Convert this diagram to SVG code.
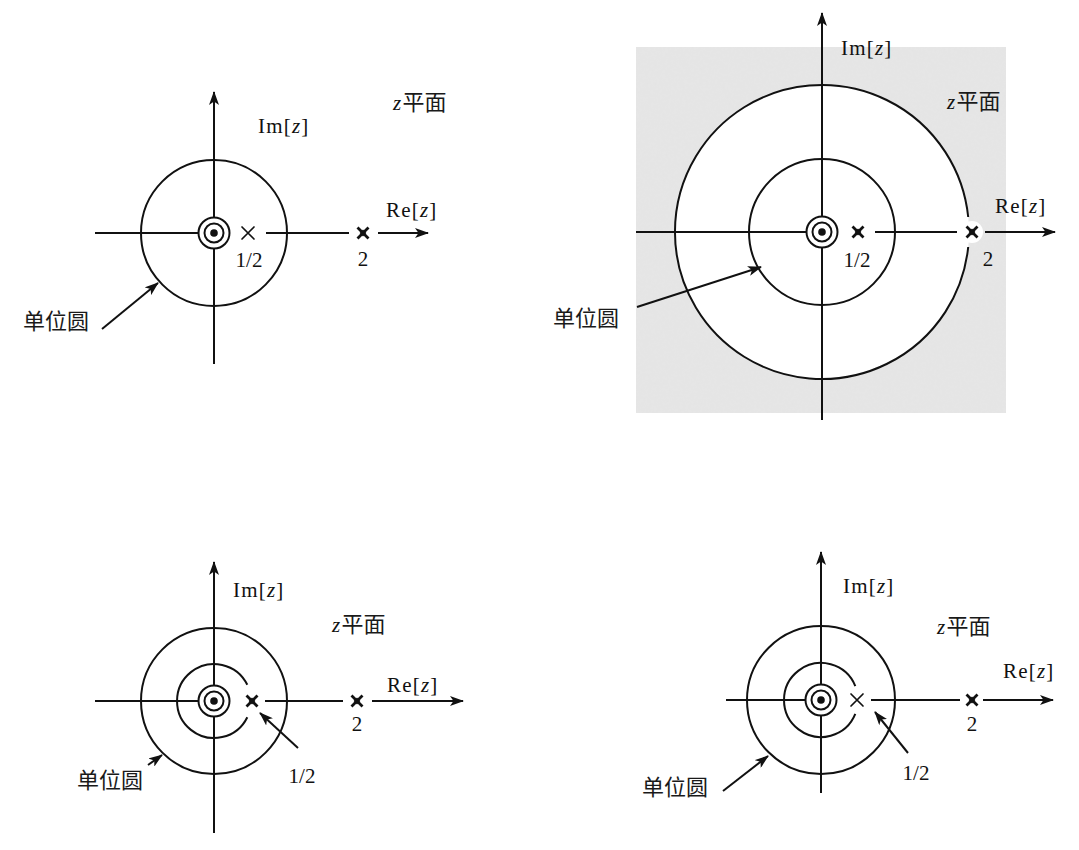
<svg xmlns="http://www.w3.org/2000/svg" width="1079" height="850" viewBox="0 0 1079 850">
<style>
.ax{stroke:#111;stroke-width:2;fill:none}
.c{stroke:#111;stroke-width:2;fill:none}
.th{stroke:#111;stroke-width:1.7;fill:none;stroke-linecap:round}
.bd{stroke:#111;stroke-width:2.8;fill:none}
.dot{fill:#111}
.lt{font-family:"Liberation Serif","Times New Roman",serif;font-size:21px;fill:#111;letter-spacing:1.2px}
.it{font-style:italic}
.cj{font-family:"Noto Sans CJK SC","Noto Sans",sans-serif;font-size:22px;fill:#1a1a1a}
.num{font-family:"Liberation Serif","Times New Roman",serif;font-size:21px;fill:#111;text-anchor:middle}
</style>
<defs>
<marker id="ah" viewBox="0 0 14 10" refX="13" refY="5" markerWidth="14" markerHeight="10" markerUnits="userSpaceOnUse" orient="auto">
<path d="M0,0 L14,5 L0,10 L3.5,5 z" fill="#111"/>
</marker>
<filter id="grain" x="0" y="0" width="100%" height="100%">
<feTurbulence type="fractalNoise" baseFrequency="0.35" numOctaves="2" seed="3" result="n"/>
<feColorMatrix type="matrix" values="0 0 0 0 0.78  0 0 0 0 0.78  0 0 0 0 0.78  0 0 0 -1.6 1.25" in="n" result="g"/>
<feComposite in="g" in2="SourceGraphic" operator="in"/>
</filter>
<g id="zero">
<circle r="15.5" class="c"/>
<circle r="9.5" class="c"/>
<circle r="3.8" class="dot"/>
</g>
<g id="pole">
<path d="M-5.5,-5.5 L5.5,5.5 M-5.5,5.5 L5.5,-5.5" class="bd"/>
<rect x="-2.4" y="-2.4" width="4.8" height="4.8" class="dot" transform="rotate(45)"/>
</g>
<g id="xthin">
<path d="M-6,-6 L6,6 M-6,6 L6,-6" class="th"/>
</g>
</defs>
<rect width="1079" height="850" fill="#fff"/>

<!-- Panel 1 -->
<g id="panel1">
<circle cx="214" cy="233" r="73" class="c"/>
<use href="#zero" x="214" y="233"/>
<use href="#xthin" x="248" y="233"/>
<use href="#pole" x="363" y="233"/>
<text x="249" y="267" class="num">1/2</text>
<text x="363" y="266" class="num">2</text>
<text x="386" y="217" class="lt">Re[<tspan class="it">z</tspan>]</text>
<text x="258" y="133" class="lt">Im[<tspan class="it">z</tspan>]</text>
<text x="393" y="110"><tspan class="lt it">z</tspan><tspan class="cj">平面</tspan></text>
<text x="23" y="329" class="cj">单位圆</text>
</g>

<!-- Panel 2 -->
<g id="panel2">
<rect x="636" y="47" width="370" height="366" fill="#e6e6e6"/>
<rect x="636" y="47" width="370" height="366" fill="#000" filter="url(#grain)"/>
<circle cx="822" cy="232" r="147" fill="#fff"/>
<circle cx="972" cy="232" r="11" fill="#fff"/>
<path d="M968.2,217 A147,147 0 1,0 968.2,247" class="c"/>
<circle cx="822" cy="232" r="73" class="c"/>
<use href="#zero" x="822" y="232"/>
<use href="#pole" x="858" y="232"/>
<use href="#pole" x="972" y="232"/>
<text x="857" y="267" class="num">1/2</text>
<text x="988" y="266" class="num">2</text>
<text x="995" y="213" class="lt">Re[<tspan class="it">z</tspan>]</text>
<text x="841" y="55" class="lt">Im[<tspan class="it">z</tspan>]</text>
<text x="947" y="109"><tspan class="lt it">z</tspan><tspan class="cj">平面</tspan></text>
<text x="553" y="326" class="cj">单位圆</text>
</g>

<!-- Panel 3 -->
<g id="panel3">
<circle cx="214" cy="701" r="73" class="c"/>
<path d="M247.3,684.8 A37,37 0 1,0 247.3,717.2" class="c"/>
<use href="#zero" x="214" y="701"/>
<use href="#pole" x="252" y="701"/>
<use href="#pole" x="357" y="701"/>
<text x="302" y="783" class="num">1/2</text>
<text x="357" y="731" class="num">2</text>
<text x="387" y="692" class="lt">Re[<tspan class="it">z</tspan>]</text>
<text x="233" y="597" class="lt">Im[<tspan class="it">z</tspan>]</text>
<text x="332" y="632"><tspan class="lt it">z</tspan><tspan class="cj">平面</tspan></text>
<text x="77" y="788" class="cj">单位圆</text>
</g>

<!-- Panel 4 -->
<g id="panel4">
<circle cx="821" cy="700" r="74" class="c"/>
<path d="M855.3,686.1 A37,37 0 1,0 855.3,713.9" class="c"/>
<use href="#zero" x="821" y="700"/>
<use href="#xthin" x="857" y="700"/>
<use href="#pole" x="972" y="700"/>
<text x="916" y="780" class="num">1/2</text>
<text x="972" y="731" class="num">2</text>
<text x="1003" y="678" class="lt">Re[<tspan class="it">z</tspan>]</text>
<text x="843" y="593" class="lt">Im[<tspan class="it">z</tspan>]</text>
<text x="937" y="634"><tspan class="lt it">z</tspan><tspan class="cj">平面</tspan></text>
<text x="642" y="795" class="cj">单位圆</text>
</g>

<!-- Connectors: axes and pointer arrows -->
<g id="connectors">
<path d="M214,364 L214,249" class="ax"/>
<path d="M214,217 L214,92" class="ax" marker-end="url(#ah)"/>
<path d="M95,233 L198,233 M266,233 L349,233" class="ax"/>
<path d="M378,233 L428,233" class="ax" marker-end="url(#ah)"/>
<path d="M102,329 L158,283" class="ax" marker-end="url(#ah)"/>
<path d="M822,420 L822,248" class="ax"/>
<path d="M822,216 L822,13" class="ax" marker-end="url(#ah)"/>
<path d="M636,232 L806,232 M875,232 L957,232" class="ax"/>
<path d="M985,232 L1055,232" class="ax" marker-end="url(#ah)"/>
<path d="M637,307 L761,267" class="ax" marker-end="url(#ah)"/>
<path d="M214,833 L214,717" class="ax"/>
<path d="M214,685 L214,562" class="ax" marker-end="url(#ah)"/>
<path d="M95,701 L198,701 M265,701 L343,701" class="ax"/>
<path d="M372,701 L463,701" class="ax" marker-end="url(#ah)"/>
<path d="M298,748 L260,713" class="ax" marker-end="url(#ah)"/>
<path d="M148,765 L162,755" class="ax" marker-end="url(#ah)"/>
<path d="M821,793 L821,716" class="ax"/>
<path d="M821,684 L821,552" class="ax" marker-end="url(#ah)"/>
<path d="M726,700 L805,700 M871,700 L960,700" class="ax"/>
<path d="M983,700 L1053,700" class="ax" marker-end="url(#ah)"/>
<path d="M908,753 L875,712" class="ax" marker-end="url(#ah)"/>
<path d="M723,791 L768,756" class="ax" marker-end="url(#ah)"/>
</g>
</svg>
